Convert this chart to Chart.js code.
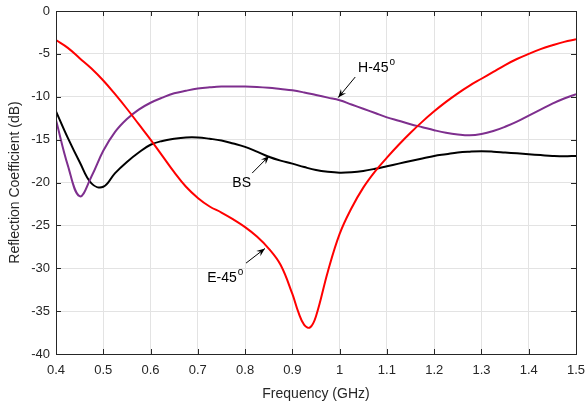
<!DOCTYPE html>
<html>
<head>
<meta charset="utf-8">
<script src="https://cdn.jsdelivr.net/npm/chart.js@4/dist/chart.umd.min.js"></script>
<style>
  html, body { margin: 0; padding: 0; background: #fff; }
  #wrap { width: 587px; height: 409px; }
</style>
</head>
<body>
<div id="wrap"><canvas id="chart" width="587" height="409"></canvas></div>
<script>
// Values (GHz, dB), mostly every 0.025 GHz
const freq = [0.400, 0.425, 0.450, 0.475, 0.500, 0.525, 0.550, 0.575, 0.600, 0.625, 0.650, 0.675,
  0.700, 0.725, 0.750, 0.775, 0.800, 0.825, 0.850, 0.875, 0.900, 0.925, 0.950, 0.975,
  1.000, 1.025, 1.050, 1.075, 1.100, 1.125, 1.150, 1.175, 1.200, 1.225, 1.250, 1.275,
  1.300, 1.325, 1.350, 1.375, 1.400, 1.425, 1.450, 1.475, 1.500];

// E-45 has a sharp notch, so it gets two extra samples around 0.93 GHz
const e45Freq = [0.400, 0.425, 0.450, 0.475, 0.500, 0.525, 0.550, 0.575, 0.600, 0.625, 0.650, 0.675,
  0.700, 0.725, 0.750, 0.775, 0.800, 0.825, 0.850, 0.875, 0.900, 0.9125, 0.925, 0.9375, 0.950, 0.975,
  1.000, 1.025, 1.050, 1.075, 1.100, 1.125, 1.150, 1.175, 1.200, 1.225, 1.250, 1.275,
  1.300, 1.325, 1.350, 1.375, 1.400, 1.425, 1.450, 1.475, 1.500];
const e45Loss = [-3.4, -4.3, -5.5, -6.7, -8.1, -9.7, -11.4, -13.2, -15.0, -16.9, -18.8, -20.5,
  -21.8, -22.8, -23.5, -24.3, -25.2, -26.3, -27.7, -29.6, -33.0, -35.1, -36.6, -36.9, -35.6, -30.4,
  -26.0, -23.0, -20.6, -18.7, -17.1, -15.6, -14.2, -12.9, -11.7, -10.6, -9.6, -8.7,
  -7.9, -7.1, -6.3, -5.6, -5.0, -4.45, -4.0, -3.6, -3.3];

const h45Loss = [-12.7, -18.0, -21.6, -19.3, -16.3, -14.1, -12.6, -11.5, -10.7, -10.1, -9.6, -9.3,
  -9.05, -8.9, -8.8, -8.8, -8.8, -8.85, -8.95, -9.1, -9.25, -9.5, -9.8, -10.1,
  -10.4, -10.9, -11.4, -11.9, -12.4, -12.8, -13.2, -13.55, -13.9, -14.2, -14.4, -14.5,
  -14.35, -14.0, -13.5, -12.9, -12.2, -11.5, -10.8, -10.2, -9.7];

const bsLoss = [-11.7, -14.8, -17.6, -20.1, -20.5, -18.9, -17.6, -16.5, -15.6, -15.15, -14.9, -14.75,
  -14.75, -14.9, -15.1, -15.45, -15.85, -16.4, -17.0, -17.45, -17.8, -18.2, -18.55, -18.75,
  -18.85, -18.8, -18.65, -18.4, -18.1, -17.8, -17.5, -17.2, -16.9, -16.7, -16.5, -16.4,
  -16.35, -16.4, -16.5, -16.6, -16.7, -16.8, -16.9, -16.95, -16.9];

const xTicks = [0.4, 0.5, 0.6, 0.7, 0.8, 0.9, 1.0, 1.1, 1.2, 1.3, 1.4, 1.5];
const yTicks = [0, -5, -10, -15, -20, -25, -30, -35, -40];

// curve labels: text anchor (left, middle) and arrow tail -> head, in data units
const labelNames = ["H-45", "BS", "E-45"];
const labelDegree = [true, false, true];
const labelAt = [[1.039, -6.7], [0.773, -20.1], [0.720, -31.2]];
const arrowFrom = [[1.033, -7.7], [0.815, -18.9], [0.802, -29.4]];
const arrowTo = [[0.997, -10.1], [0.851, -16.9], [0.842, -27.7]];

const AXIS_COLOR = "#262626";
const FONT = "'Liberation Sans', Arial, Helvetica, sans-serif";

function toPoints(xs, ys) {
  return xs.map((x, i) => ({ x, y: ys[i] }));
}

// MATLAB-style box: inward ticks on all four sides plus the frame
const boxPlugin = {
  id: "box",
  afterDatasetsDraw(chart) {
    const { ctx, chartArea: a, scales } = chart;
    ctx.save();
    ctx.strokeStyle = AXIS_COLOR;
    ctx.lineWidth = 1;
    ctx.beginPath();
    xTicks.forEach((v) => {
      const px = Math.round(scales.x.getPixelForValue(v)) + 0.5;
      ctx.moveTo(px, a.bottom); ctx.lineTo(px, a.bottom - 5);
      ctx.moveTo(px, a.top); ctx.lineTo(px, a.top + 5);
    });
    yTicks.forEach((v) => {
      const py = Math.round(scales.y.getPixelForValue(v)) + 0.5;
      ctx.moveTo(a.left, py); ctx.lineTo(a.left + 5, py);
      ctx.moveTo(a.right, py); ctx.lineTo(a.right - 5, py);
    });
    ctx.stroke();
    ctx.strokeRect(Math.round(a.left) + 0.5, Math.round(a.top) + 0.5,
      Math.round(a.right - a.left), Math.round(a.bottom - a.top));
    ctx.restore();
  },
};

const labelPlugin = {
  id: "curveLabels",
  afterDatasetsDraw(chart) {
    const { ctx, scales } = chart;
    ctx.save();
    ctx.fillStyle = "#000";
    ctx.strokeStyle = "#000";
    ctx.textBaseline = "middle";
    ctx.textAlign = "left";
    labelNames.forEach((name, i) => {
      const tx = scales.x.getPixelForValue(labelAt[i][0]);
      const ty = scales.y.getPixelForValue(labelAt[i][1]);
      ctx.font = "14px " + FONT;
      ctx.fillText(name, tx, ty);
      if (labelDegree[i]) {
        const w = ctx.measureText(name).width;
        ctx.font = "10px " + FONT;
        ctx.fillText("o", tx + w + 1, ty - 6);
      }

      const x0 = scales.x.getPixelForValue(arrowFrom[i][0]);
      const y0 = scales.y.getPixelForValue(arrowFrom[i][1]);
      const x1 = scales.x.getPixelForValue(arrowTo[i][0]);
      const y1 = scales.y.getPixelForValue(arrowTo[i][1]);
      const ang = Math.atan2(y1 - y0, x1 - x0);
      ctx.lineWidth = 1;
      ctx.beginPath();
      ctx.moveTo(x0, y0);
      ctx.lineTo(x1, y1);
      ctx.stroke();
      const len = 9, spread = 0.38;
      ctx.beginPath();
      ctx.moveTo(x1, y1);
      ctx.lineTo(x1 - len * Math.cos(ang - spread), y1 - len * Math.sin(ang - spread));
      ctx.lineTo(x1 - len * 0.6 * Math.cos(ang), y1 - len * 0.6 * Math.sin(ang));
      ctx.lineTo(x1 - len * Math.cos(ang + spread), y1 - len * Math.sin(ang + spread));
      ctx.closePath();
      ctx.fill();
    });
    ctx.restore();
  },
};

function series(label, xs, ys, color) {
  return {
    label,
    data: toPoints(xs, ys),
    borderColor: color,
    borderWidth: 2,
    pointRadius: 0,
    tension: 0.4,
    fill: false,
  };
}

new Chart(document.getElementById("chart"), {
  type: "line",
  data: {
    datasets: [
      series("E-45°", e45Freq, e45Loss, "#ff0000"),
      series("H-45°", freq, h45Loss, "#7e2f8e"),
      series("BS", freq, bsLoss, "#000000"),
    ],
  },
  options: {
    responsive: false,
    animation: false,
    layout: { padding: { left: 0, right: 11, top: 11, bottom: 0 } },
    plugins: { legend: { display: false }, tooltip: { enabled: false } },
    scales: {
      x: {
        type: "linear",
        min: 0.4,
        max: 1.5,
        afterBuildTicks: (scale) => { scale.ticks = xTicks.map((v) => ({ value: v })); },
        afterFit: (scale) => {
          scale.height = 55;
          scale.paddingLeft = 0;
          scale.paddingRight = 0;
        },
        ticks: {
          color: AXIS_COLOR,
          font: { family: FONT, size: 13 },
          padding: 9,
          maxRotation: 0,
          callback: (v) => String(Number(v.toFixed(1))),
        },
        grid: { color: "#e3e3e3", drawTicks: false },
        border: { display: false },
        title: {
          display: true,
          text: "Frequency (GHz)",
          color: AXIS_COLOR,
          font: { family: FONT, size: 14 },
          padding: { top: 0, bottom: 6 },
        },
      },
      y: {
        min: -40,
        max: 0,
        afterBuildTicks: (scale) => { scale.ticks = yTicks.map((v) => ({ value: v })); },
        afterFit: (scale) => {
          scale.width = 56;
          scale.paddingTop = 0;
          scale.paddingBottom = 0;
        },
        ticks: {
          color: AXIS_COLOR,
          font: { family: FONT, size: 13 },
          padding: 6,
        },
        grid: { color: "#e3e3e3", drawTicks: false },
        border: { display: false },
        title: {
          display: true,
          text: "Reflection Coefficient (dB)",
          color: AXIS_COLOR,
          font: { family: FONT, size: 14 },
          padding: { top: 7, bottom: 0 },
        },
      },
    },
  },
  plugins: [boxPlugin, labelPlugin],
});
</script>
</body>
</html>
